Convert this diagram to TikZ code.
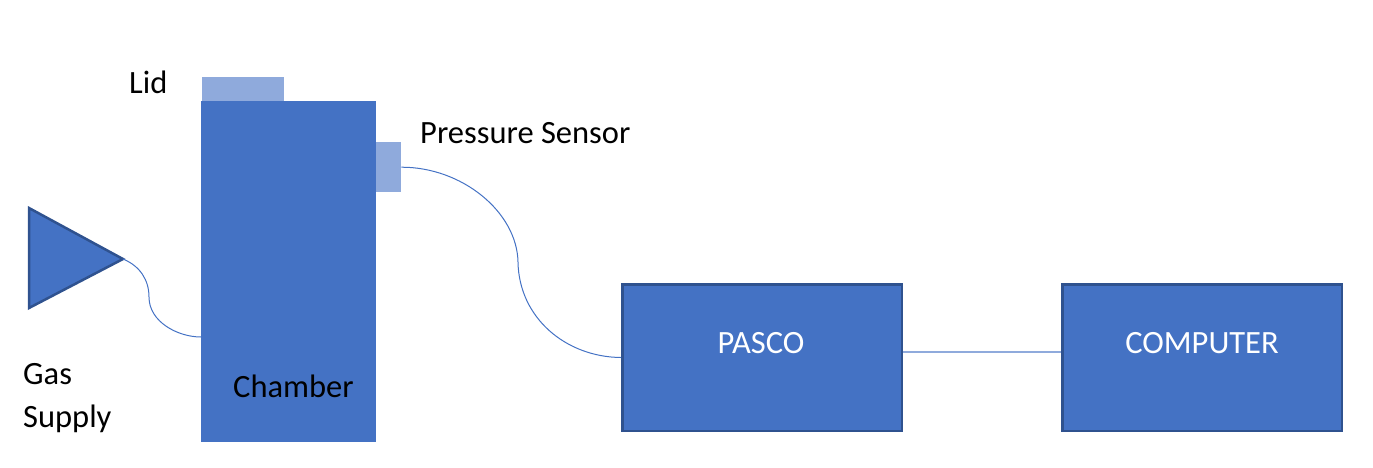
\documentclass[tikz,border=0pt]{standalone}
\usepackage{fontspec}
\setmainfont{Carlito}
\usepackage{xcolor}
\usepackage{tikz}
\usetikzlibrary{positioning}
\definecolor{partblue}{HTML}{4472C4}
\definecolor{fitblue}{HTML}{8FAADC}
\definecolor{edgeblue}{HTML}{2F528F}
\tikzstyle{part} = [fill=partblue, draw=none, inner sep=0pt, anchor=north west]
\tikzstyle{fitting} = [fill=fitblue, draw=none, inner sep=0pt, anchor=north west]
\tikzstyle{unit} = [fill=partblue, draw=edgeblue, line width=2.5pt, inner sep=0pt, minimum width=279.5pt, minimum height=146.5pt, anchor=north west]
\tikzstyle{gasshape} = [fill=partblue, draw=edgeblue, line width=2.5pt, line join=miter]
\tikzstyle{cable} = [draw=partblue, line width=1pt]
\tikzstyle{link} = [draw=fitblue, line width=2pt]

\begin{document}
\begin{tikzpicture}[x=1pt,y=-1pt]
				\useasboundingbox (0,0) rectangle (1373,467);
				
				% Chamber with its lid and the sensor on the side:
				\node[part, minimum width=175pt, minimum height=341pt] (chamber) at (201,101) {};
				\node[fitting, minimum width=82pt, minimum height=24pt] (lid) at (202,77) {};
				\node[fitting, minimum width=25pt, minimum height=50pt] (sensor) at (376,142) {};
				
				% Boxes:
				\node[unit] (pasco) at (621,283) {};
				\node[unit] (computer) at (1061,283) {};
				
				% Gas supply:
				\coordinate (gastip) at (123,259);
				\coordinate (gasport) at (201,337);
				\draw[gasshape] (29,208) -- (gastip) -- (29,308) -- cycle;
				
				% Cables:
				\draw[cable] (gastip) .. controls (140,266) and (149,280) .. (149,297) .. controls (149,322) and (178,337) .. (gasport);
				\draw[cable] (sensor.east) .. controls (462,167) and (517,212) .. (518,262) .. controls (519,318) and (566,357) .. (pasco.west);
				\draw[link] ([yshift=5.5pt]pasco.east) -- ([yshift=5.5pt]computer.west);
				
				% Labels:
				\begin{scope}[font=\fontsize{32.5}{39}\selectfont, inner sep=0pt]
				\node[anchor=base west] (lidlabel) at (129,93) {Lid};
				\node[anchor=base west] (sensorlabel) at (420,143) {Pressure Sensor};
				\node[anchor=base west] (gaslabel) at (23,384) {Gas};
				\node[anchor=base west] (supplylabel) at (23,427) {Supply};
				\node[anchor=base west] (chamberlabel) at (233,397) {Chamber};
				\node[anchor=base, text=white] (pascolabel) at (761,353) {PASCO};
				\node[anchor=base, text=white] (computerlabel) at (1202,353) {COMPUTER};
				\end{scope}
\end{tikzpicture}
\end{document}
